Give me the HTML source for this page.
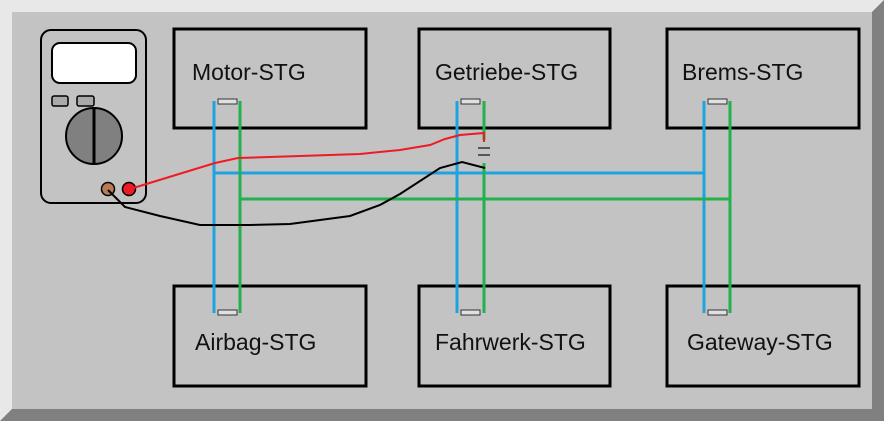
<!DOCTYPE html>
<html><head><meta charset="utf-8"><style>
html,body{margin:0;padding:0;background:#c3c3c3;}
svg{display:block;}
text{font-family:"Liberation Sans",sans-serif;font-size:23px;fill:#111;}
</style></head><body>
<svg width="884" height="421" viewBox="0 0 884 421" xmlns="http://www.w3.org/2000/svg">
<rect x="0" y="0" width="884" height="421" fill="#c3c3c3"/>
<polygon points="0,0 884,0 872,12 12,12 12,409 0,421" fill="#e8e8e8"/>
<polygon points="884,0 884,421 0,421 12,409 872,409 872,12" fill="#808080"/>
<g fill="none" stroke="#000" stroke-width="3">
<rect x="174" y="29" width="192" height="99"/>
<rect x="419" y="29" width="191" height="99"/>
<rect x="667" y="29" width="192" height="99"/>
<rect x="174" y="286" width="192" height="100"/>
<rect x="419" y="286" width="191" height="100"/>
<rect x="667" y="286" width="192" height="100"/>
</g>
<text x="192" y="80">Motor-STG</text>
<text x="435" y="80">Getriebe-STG</text>
<text x="682" y="80">Brems-STG</text>
<text x="195" y="350">Airbag-STG</text>
<text x="435" y="350">Fahrwerk-STG</text>
<text x="687" y="350">Gateway-STG</text>
<g stroke="#1ca3e0" stroke-width="3" fill="none">
<line x1="214" y1="101" x2="214" y2="313"/><line x1="457" y1="101" x2="457" y2="313"/><line x1="704" y1="101" x2="704" y2="313"/>
<line x1="214" y1="173" x2="704" y2="173"/>
</g>
<g stroke="#22b14c" stroke-width="3" fill="none">
<line x1="240" y1="101" x2="240" y2="313"/><line x1="484" y1="101" x2="484" y2="140"/><line x1="484" y1="163" x2="484" y2="313"/><line x1="730" y1="101" x2="730" y2="313"/>
<line x1="240" y1="199" x2="730" y2="199"/>
</g>
<g fill="#e0e0e0" stroke="#333" stroke-width="1">
<rect x="218" y="99" width="19" height="5"/><rect x="461" y="99" width="19" height="5"/><rect x="708" y="99" width="19" height="5"/>
<rect x="218" y="310" width="19" height="5"/><rect x="461" y="310" width="19" height="5"/><rect x="708" y="310" width="19" height="5"/>
</g>
<g stroke="#333" stroke-width="1.5"><line x1="478" y1="148" x2="490" y2="148"/><line x1="478" y1="155" x2="490" y2="155"/></g>
<rect x="41" y="30" width="105" height="173" rx="10" fill="#c3c3c3" stroke="#000" stroke-width="2"/>
<rect x="52" y="43" width="84" height="40" rx="8" fill="#fff" stroke="#000" stroke-width="2"/>
<rect x="52" y="96" width="16" height="10" rx="2" fill="#aaa" stroke="#000" stroke-width="1.5"/>
<rect x="77" y="96" width="17" height="10" rx="2" fill="#aaa" stroke="#000" stroke-width="1.5"/>
<circle cx="94" cy="136" r="28" fill="#808080" stroke="#000" stroke-width="2"/>
<line x1="94" y1="109" x2="94" y2="163" stroke="#000" stroke-width="3"/>
<circle cx="108" cy="189" r="6.5" fill="#b97a57" stroke="#000" stroke-width="1.5"/>
<circle cx="129" cy="189" r="6.5" fill="#ed1c24" stroke="#000" stroke-width="1.5"/>
<polyline points="130,189 215,163 238,158 300,156 360,154 400,150 430,145 445,139 460,135 484,133 484,142" fill="none" stroke="#ed1c24" stroke-width="2"/>
<polyline points="108,190 125,207 160,216 200,225 250,225 290,224 350,216 380,205 400,194 440,168 462,162 485,168" fill="none" stroke="#000" stroke-width="2"/>
</svg>
</body></html>
